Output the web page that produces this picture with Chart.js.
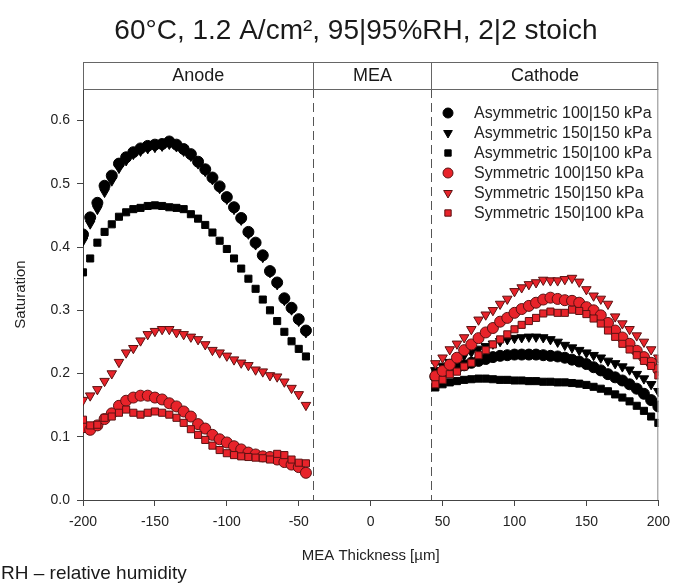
<!DOCTYPE html>
<html>
<head>
<meta charset="utf-8">
<script src="https://cdn.jsdelivr.net/npm/chart.js@4.4.1/dist/chart.umd.min.js"></script>
<style>
  html, body { margin: 0; padding: 0; background: #fff; }
</style>
</head>
<body>
<canvas id="chart" width="678" height="585"></canvas>
<script>
// positions across the MEA (µm)
const anodeX = [-200, -195, -190, -185, -180, -175, -170, -165, -160, -155, -150, -145, -140, -135, -130, -125,
                -120, -115, -110, -105, -100, -95, -90, -85, -80, -75, -70, -65, -60, -55, -50, -45];
const cathodeX = [45, 50, 55, 60, 65, 70, 75, 80, 85, 90, 95, 100, 105, 110, 115, 120,
                  125, 130, 135, 140, 145, 150, 155, 160, 165, 170, 175, 180, 185, 190, 195, 200];

// Asymmetric 100|150 kPa
const asym100_150A = [0.42, 0.447, 0.47, 0.497, 0.513, 0.532, 0.542, 0.55, 0.556, 0.56, 0.562, 0.563, 0.567, 0.562, 0.555, 0.547,
                      0.535, 0.523, 0.51, 0.496, 0.479, 0.463, 0.446, 0.424, 0.407, 0.387, 0.362, 0.344, 0.319, 0.304, 0.286, 0.268];
const asym100_150C = [0.195, 0.2, 0.205, 0.209, 0.213, 0.217, 0.22, 0.223, 0.226, 0.228, 0.229, 0.23, 0.23, 0.23, 0.23, 0.229,
                      0.228, 0.227, 0.225, 0.222, 0.219, 0.215, 0.21, 0.205, 0.199, 0.194, 0.189, 0.183, 0.176, 0.168, 0.158, 0.148];
// Asymmetric 150|150 kPa
const asym150_150A = [0.41, 0.437, 0.46, 0.487, 0.505, 0.525, 0.537, 0.547, 0.552, 0.556, 0.558, 0.56, 0.563, 0.559, 0.552, 0.544,
                      0.532, 0.52, 0.507, 0.493, 0.476, 0.46, 0.443, 0.421, 0.404, 0.384, 0.36, 0.341, 0.316, 0.301, 0.283, 0.265];
const asym150_150C = [0.205, 0.212, 0.218, 0.224, 0.229, 0.234, 0.239, 0.243, 0.247, 0.251, 0.254, 0.256, 0.257, 0.258, 0.258, 0.257,
                      0.254, 0.25, 0.245, 0.241, 0.237, 0.233, 0.229, 0.225, 0.22, 0.216, 0.211, 0.206, 0.199, 0.192, 0.183, 0.172];
// Asymmetric 150|100 kPa
const asym150_100A = [0.36, 0.382, 0.407, 0.424, 0.436, 0.448, 0.455, 0.46, 0.462, 0.465, 0.466, 0.465, 0.463, 0.462, 0.46, 0.452,
                      0.445, 0.435, 0.423, 0.41, 0.397, 0.382, 0.366, 0.35, 0.334, 0.317, 0.3, 0.283, 0.266, 0.251, 0.239, 0.227];
const asym150_100C = [0.178, 0.183, 0.186, 0.188, 0.19, 0.191, 0.192, 0.192, 0.191, 0.19, 0.19, 0.189, 0.189, 0.188, 0.188, 0.187,
                      0.187, 0.186, 0.186, 0.185, 0.184, 0.182, 0.179, 0.176, 0.172, 0.167, 0.162, 0.156, 0.149, 0.141, 0.132, 0.122];
// Symmetric 100|150 kPa
const sym100_150A = [0.115, 0.111, 0.118, 0.128, 0.137, 0.149, 0.157, 0.162, 0.165, 0.165, 0.162, 0.159, 0.153, 0.148, 0.14, 0.132,
                     0.12, 0.113, 0.103, 0.096, 0.091, 0.085, 0.08, 0.075, 0.072, 0.069, 0.068, 0.064, 0.06, 0.056, 0.052, 0.043];
const sym100_150C = [0.196, 0.204, 0.214, 0.225, 0.237, 0.246, 0.256, 0.265, 0.272, 0.282, 0.288, 0.296, 0.302, 0.307, 0.312, 0.317,
                     0.32, 0.318, 0.316, 0.315, 0.312, 0.305, 0.3, 0.292, 0.28, 0.268, 0.257, 0.247, 0.236, 0.226, 0.217, 0.206];
// Symmetric 150|150 kPa
const sym150_150A = [0.158, 0.165, 0.175, 0.188, 0.2, 0.218, 0.233, 0.24, 0.252, 0.262, 0.267, 0.27, 0.27, 0.265, 0.262, 0.258,
                     0.254, 0.246, 0.237, 0.233, 0.228, 0.222, 0.217, 0.213, 0.206, 0.203, 0.197, 0.195, 0.187, 0.177, 0.167, 0.15];
const sym150_150C = [0.216, 0.225, 0.238, 0.247, 0.257, 0.27, 0.285, 0.293, 0.3, 0.31, 0.318, 0.33, 0.336, 0.341, 0.344, 0.348,
                     0.347, 0.347, 0.349, 0.351, 0.345, 0.333, 0.323, 0.318, 0.31, 0.29, 0.279, 0.27, 0.26, 0.25, 0.238, 0.225];
// Symmetric 150|100 kPa
const sym150_100A = [0.127, 0.118, 0.119, 0.13, 0.132, 0.138, 0.143, 0.138, 0.135, 0.138, 0.14, 0.138, 0.135, 0.13, 0.122, 0.112,
                     0.103, 0.095, 0.086, 0.079, 0.074, 0.071, 0.069, 0.068, 0.067, 0.066, 0.064, 0.073, 0.071, 0.064, 0.059, 0.058];
const sym150_100C = [0.183, 0.19, 0.199, 0.203, 0.211, 0.217, 0.229, 0.237, 0.246, 0.254, 0.262, 0.27, 0.277, 0.283, 0.288, 0.295,
                     0.298, 0.296, 0.296, 0.301, 0.299, 0.294, 0.287, 0.279, 0.268, 0.258, 0.247, 0.238, 0.229, 0.22, 0.212, 0.197];

const seriesNames = ['Asymmetric 100|150 kPa', 'Asymmetric 150|150 kPa', 'Asymmetric 150|100 kPa',
                     'Symmetric 100|150 kPa', 'Symmetric 150|150 kPa', 'Symmetric 150|100 kPa'];
const zoneLabels = ['Anode', 'MEA', 'Cathode'];
const zoneEdges = [-40, 42];
const xTicks = [-200, -150, -100, -50, 0, 50, 100, 150, 200];
const yTicks = [0.0, 0.1, 0.2, 0.3, 0.4, 0.5, 0.6];

const FONT = '"Liberation Sans", Arial, sans-serif';
const RED = '#e8232a';
const RED_EDGE = '#5b1212';

function pts(a, c) {
  const out = anodeX.map((x, i) => ({ x: x, y: a[i] }));
  return out.concat(cathodeX.map((x, i) => ({ x: x, y: c[i] })));
}

function series(label, a, c, style, red) {
  return {
    label: label,
    data: pts(a, c),
    showLine: false,
    pointStyle: style,
    rotation: style === 'triangle' ? 180 : 0,
    pointRadius: style === 'rect' ? 5 : 5.5,
    pointBackgroundColor: red ? RED : '#000',
    pointBorderColor: red ? RED_EDGE : '#000',
    pointBorderWidth: 1
  };
}

const datasets = [
  series(seriesNames[5], sym150_100A, sym150_100C, 'rect', true),
  series(seriesNames[3], sym100_150A, sym100_150C, 'circle', true),
  series(seriesNames[4], sym150_150A, sym150_150C, 'triangle', true),
  series(seriesNames[2], asym150_100A, asym150_100C, 'rect', false),
  series(seriesNames[1], asym150_150A, asym150_150C, 'triangle', false),
  series(seriesNames[0], asym100_150A, asym100_150C, 'circle', false)
];

/* titles, zone band, dashed boundaries, legend, footnote */
const decor = {
  id: 'decor',
  beforeDatasetsDraw(chart) {
    const { ctx, chartArea: a, scales: { x } } = chart;
    ctx.save();
    ctx.strokeStyle = '#555';
    ctx.lineWidth = 1;
    ctx.setLineDash([9, 5]);
    zoneEdges.forEach(v => {
      const px = Math.round(x.getPixelForValue(v)) + 0.5;
      ctx.beginPath(); ctx.moveTo(px, a.top); ctx.lineTo(px, a.bottom); ctx.stroke();
    });
    ctx.restore();
  },
  afterDraw(chart) {
    const { ctx, chartArea: a, scales: { x } } = chart;
    ctx.save();
    // main title
    ctx.fillStyle = '#1a1a1a';
    ctx.textAlign = 'center';
    ctx.textBaseline = 'middle';
    ctx.font = '28px ' + FONT;
    ctx.fillText('60°C, 1.2 A/cm², 95|95%RH, 2|2 stoich', 356, 31);

    // zone band above the plot
    const bandTop = 62;
    ctx.strokeStyle = '#666';
    ctx.lineWidth = 1;
    ctx.strokeRect(a.left + 0.5, bandTop + 0.5, a.right - a.left - 1, a.top - bandTop);
    const e1 = Math.round(x.getPixelForValue(zoneEdges[0])) + 0.5;
    const e2 = Math.round(x.getPixelForValue(zoneEdges[1])) + 0.5;
    ctx.beginPath();
    ctx.moveTo(e1, bandTop); ctx.lineTo(e1, a.top);
    ctx.moveTo(e2, bandTop); ctx.lineTo(e2, a.top);
    ctx.stroke();
    // right edge of the plot frame
    ctx.strokeStyle = '#888';
    ctx.beginPath(); ctx.moveTo(a.right - 0.5, a.top); ctx.lineTo(a.right - 0.5, a.bottom); ctx.stroke();

    ctx.font = '18px ' + FONT;
    ctx.fillStyle = '#1a1a1a';
    const mid = (bandTop + a.top) / 2 + 1;
    ctx.fillText(zoneLabels[0], (a.left + e1) / 2, mid);
    ctx.fillText(zoneLabels[1], (e1 + e2) / 2, mid);
    ctx.fillText(zoneLabels[2], (e2 + a.right) / 2, mid);

    // legend
    const order = [5, 4, 3, 1, 2, 0];
    ctx.font = '16px ' + FONT;
    ctx.textAlign = 'left';
    order.forEach((di, row) => {
      const ds = datasets[di];
      const y = 113 + row * 20;
      ctx.fillStyle = ds.pointBackgroundColor;
      ctx.strokeStyle = ds.pointBorderColor;
      ctx.lineWidth = 1;
      Chart.helpers.drawPoint(ctx, {
        pointStyle: ds.pointStyle, rotation: ds.rotation,
        radius: ds.pointStyle === 'rect' ? 4.5 : 5, borderWidth: 1
      }, 448, y);
      ctx.fillStyle = '#222';
      ctx.fillText(ds.label, 474, y + 1);
    });

    // footnote
    ctx.font = '19px ' + FONT;
    ctx.fillStyle = '#1a1a1a';
    ctx.fillText('RH – relative humidity', 1, 574);
    ctx.restore();
  }
};

new Chart(document.getElementById('chart').getContext('2d'), {
  type: 'scatter',
  data: { datasets: datasets },
  plugins: [decor],
  options: {
    responsive: false,
    animation: false,
    layout: { padding: { top: 89, right: 14, left: 0, bottom: 0 } },
    plugins: {
      legend: { display: false },
      tooltip: { enabled: false }
    },
    scales: {
      x: {
        type: 'linear',
        min: -200, max: 200,
        afterFit(scale) { scale.height = 85; },
        afterBuildTicks(scale) { scale.ticks = xTicks.map(v => ({ value: v })); },
        grid: { drawOnChartArea: false, tickLength: 6, color: '#444' },
        border: { color: '#444', width: 1 },
        ticks: { color: '#222', font: { family: FONT, size: 14 }, padding: 8, maxRotation: 0 },
        title: { display: true, text: 'MEA Thickness [µm]', color: '#222',
                 font: { family: FONT, size: 15 }, padding: { bottom: 20 } }
      },
      y: {
        min: 0, max: 0.65,
        afterFit(scale) { scale.width = 83; },
        afterBuildTicks(scale) { scale.ticks = yTicks.map(v => ({ value: v })); },
        grid: { drawOnChartArea: false, tickLength: 6, color: '#444' },
        border: { color: '#444', width: 1 },
        ticks: { color: '#222', font: { family: FONT, size: 14 }, padding: 7,
                 callback: v => v.toFixed(1) },
        title: { display: true, text: 'Saturation', color: '#222',
                 font: { family: FONT, size: 15 }, padding: { top: 12 } }
      }
    }
  }
});
</script>
</body>
</html>
